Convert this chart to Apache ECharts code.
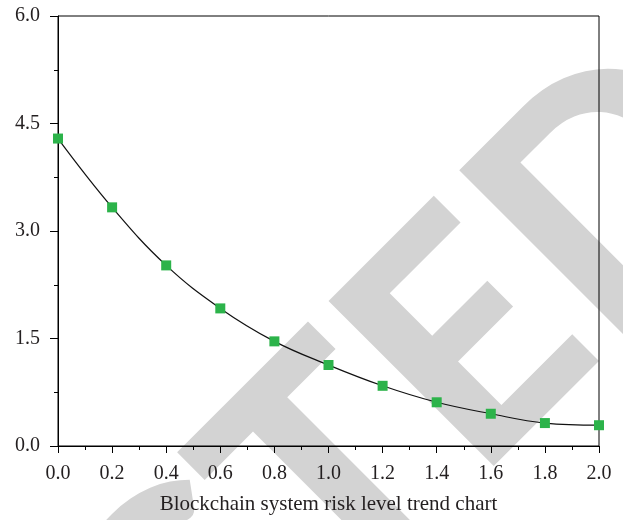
<!DOCTYPE html>
<html><head><meta charset="utf-8">
<script src="https://cdn.jsdelivr.net/npm/echarts@6/dist/echarts.min.js"></script>
<style>html,body{margin:0;padding:0;background:#fff}#c{width:623px;height:520px}</style>
</head><body><div id="c"></div>
<script>
const xValues = [0.0, 0.2, 0.4, 0.6, 0.8, 1.0, 1.2, 1.4, 1.6, 1.8, 2.0];
const riskValues = [4.29, 3.33, 2.52, 1.92, 1.46, 1.13, 0.84, 0.61, 0.45, 0.32, 0.29];
const xAxisTitle = 'Blockchain system risk level trend chart';
const watermarkText = 'RETRACTED';

const font = '"Liberation Serif", "DejaVu Serif", serif';
const chart = echarts.init(document.getElementById('c'), null, {renderer: 'canvas'});
chart.setOption({
  animation: false,
  backgroundColor: '#fff',
  graphic: [{
    type: 'text', x: 707, y: 106, rotation: Math.PI / 4, z: -10, silent: true,
    style: {text: watermarkText, font: '900 322px Lato, "DejaVu Sans", sans-serif',
      fill: '#d3d3d3', align: 'right', verticalAlign: 'middle'}
  }],
  grid: {left: 58, right: 24, top: 16, bottom: 73, show: true, borderColor: '#000', borderWidth: 1, backgroundColor: 'transparent', z: 1},
  xAxis: {
    type: 'value', min: 0, max: 2, interval: 0.2,
    name: xAxisTitle, nameLocation: 'middle', nameGap: 48,
    nameTextStyle: {fontFamily: font, fontSize: 21, color: '#231f20'},
    axisLine: {show: true, lineStyle: {color: '#000', width: 1}},
    axisTick: {show: true, inside: false, length: 7, lineStyle: {color: '#000'}},
    minorTick: {show: true, splitNumber: 2, length: 4, lineStyle: {color: '#000'}},
    splitLine: {show: false},
    axisLabel: {fontFamily: font, fontSize: 20, color: '#231f20', margin: 18, formatter: v => v.toFixed(1)}
  },
  yAxis: {
    type: 'value', min: 0, max: 6, interval: 1.5,
    axisLine: {show: true, lineStyle: {color: '#000', width: 1}},
    axisTick: {show: true, inside: false, length: 8, lineStyle: {color: '#000'}},
    minorTick: {show: true, splitNumber: 2, length: 4, lineStyle: {color: '#000'}},
    splitLine: {show: false},
    axisLabel: {fontFamily: font, fontSize: 20, color: '#231f20', margin: 18, formatter: v => v.toFixed(1)}
  },
  series: [{
    type: 'line', data: xValues.map((x, i) => [x, riskValues[i]]),
    smooth: 0.4, symbol: 'rect', symbolSize: 10,
    itemStyle: {color: '#2cb34a'},
    lineStyle: {color: '#111', width: 1.2},
    clip: false, z: 3
  }]
});
</script></body></html>
